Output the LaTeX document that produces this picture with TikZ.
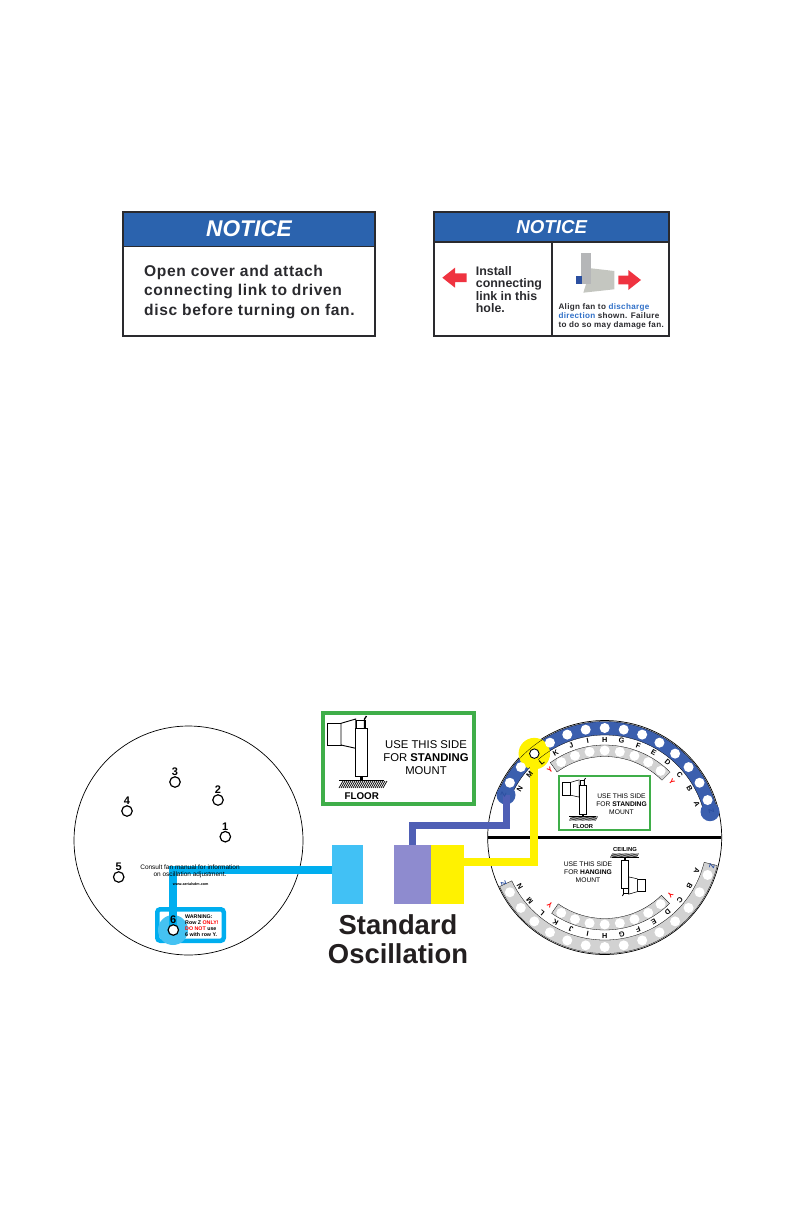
\documentclass[tikz,border=0pt]{standalone}
\usepackage{fontspec}
\usetikzlibrary{positioning}
\setmainfont{Liberation Sans}
\newfontfamily\signfont[LetterSpace=4]{Liberation Sans}
\newcommand{\px}[1]{\fontsize{#1}{#1}\selectfont}

\definecolor{noticeblue}{HTML}{2B63AE}
\definecolor{noticeline}{HTML}{2A2A2E}
\definecolor{signred}{HTML}{EF3340}
\definecolor{linkblue}{HTML}{2F6FC7}
\definecolor{fanbody}{HTML}{B5B6B8}
\definecolor{fancone}{HTML}{C4C6C0}
\definecolor{fanbase}{HTML}{2B4FA0}
\definecolor{mountgreen}{HTML}{3FAE49}
\definecolor{rowblue}{HTML}{3B5FAE}
\definecolor{rowgray}{HTML}{D2D2D2}
\definecolor{lineblue}{HTML}{4F5FB5}
\definecolor{linecyan}{HTML}{00AEEF}
\definecolor{glowcyan}{HTML}{45C2F2}
\definecolor{boxcyan}{HTML}{41C1F5}
\definecolor{boxpurple}{HTML}{8E8BCF}
\definecolor{boxyellow}{HTML}{FFF200}
\definecolor{inkgray}{HTML}{231F20}

% annular sector: start, end, inner and outer radius
\newcommand{\rowband}[4]{(#1:#4) arc (#1:#2:#4) -- (#2:#3) arc (#2:#1:#3) -- cycle}

% fan on its floor, origin at the top left corner of the frame
\newcommand{\mountfan}[1]{%
  \draw[line width=#1, fill=white] (5.7,-11.3) rectangle (19,-33);
  \draw[line width=#1, fill=white] (19,-11.3) -- (33.7,-7) -- (33.7,-36.3) -- (19,-33) -- cycle;
  \draw[line width=#1, fill=white] (34.7,-8) rectangle (43,-16.3);
  \draw[line width=#1, fill=white] (33.7,-16.3) rectangle (45.7,-64.7);
  \draw[line width=1.5*#1] (42.5,-16) -- (42.5,-7) -- (44.5,-4);
  \fill (38,-64.7) rectangle (41.3,-68.7);
  \draw[line width=1.5*#1] (17,-68.7) -- (62,-68.7);
  \foreach \h in {0,2,...,44} {
    \draw[line width=0.8*#1] (17+\h,-76) -- (18+\h+3,-69);
  }
}

\begin{document}
\begin{tikzpicture}[x=1pt,y=1pt]
  \tikzstyle{frame}=[draw=noticeline, line width=1.6pt, inner sep=0pt]
  \tikzstyle{header}=[frame, fill=noticeblue, text=white, font=\bfseries\itshape]
  \tikzstyle{rowletter}=[inner sep=0pt, font=\bfseries\px{7.3}]
  \tikzstyle{rowhole}=[circle, fill=white, inner sep=0pt, minimum size=10pt]
  \tikzstyle{holemark}=[circle, draw=black, fill=white, line width=1.2pt, inner sep=0pt, minimum size=10.5pt]
  \tikzstyle{holelabel}=[inner sep=0pt, font=\bfseries\px{11}]
  \tikzstyle{colorbox}=[inner sep=0pt, minimum height=59pt]
  \tikzstyle{mountframe}=[draw=mountgreen, fill=white, inner sep=0pt]

  \useasboundingbox (0,0) rectangle (793,-1225);

  % first notice
  \node[frame, minimum width=252pt, minimum height=124pt] (noticeA) at (249,-274) {};
  \node[header, minimum width=252pt, minimum height=34pt, font=\bfseries\itshape\px{22.7}] (noticeAhead) at (249,-229.5) {\raisebox{1.5pt}{NOTICE}};
  \node[anchor=west, align=left, inner sep=0pt, font=\signfont\bfseries\px{15.6}, text=noticeline] (noticeAtext) at (144,-291.7)
    {Open cover and attach\\[3.7pt]connecting link to driven\\[3.7pt]disc before turning on fan.};

  % second notice
  \node[frame, minimum width=235pt, minimum height=124pt, line width=2pt] (noticeB) at (551.7,-274) {};
  \node[header, minimum width=235pt, minimum height=30pt, line width=2pt, font=\bfseries\itshape\px{18.7}] (noticeBhead) at (551.7,-227) {\raisebox{1pt}{NOTICE}};
  \draw[draw=noticeline, line width=2pt] (noticeBhead.south) -- (noticeB.south);
  \fill[signred] (442.3,-277.7) -- (455,-267.7) -- (455,-273.4) -- (466.7,-273.4) -- (466.7,-282) -- (455,-282) -- (455,-287.7) -- cycle;
  \node[anchor=west, align=left, inner sep=0pt, font=\bfseries\px{12.4}, text=noticeline] (noticeBtext) at (475.7,-289.5)
    {Install\\[0pt]connecting\\[0pt]link in this\\[0pt]hole.};
  \fill[fancone] (591,-268.3) -- (614.3,-271) -- (614.3,-289.3) -- (583.3,-292.7) -- cycle;
  \fill[fanbody] (581,-253.3) rectangle (591,-284);
  \fill[fanbase] (575.7,-276) rectangle (581.7,-284);
  \fill[signred] (641,-280) -- (628.3,-270) -- (628.3,-275.7) -- (618.3,-275.7) -- (618.3,-284.3) -- (628.3,-284.3) -- (628.3,-290) -- cycle;
  \node[anchor=west, align=left, inner sep=0pt, font=\signfont\bfseries\px{8.1}, text=noticeline] (noticeBnote) at (558.3,-316.5)
    {Align fan to \textcolor{linkblue}{discharge}\\[1.1pt]\textcolor{linkblue}{direction} shown. Failure\\[1.1pt]to do so may damage fan.};

  % left disc
  \node[circle, draw=black, line width=0.7pt, minimum size=229pt, inner sep=0pt] (disc) at (188.5,-840.5) {};
  \node[draw=linecyan, fill=white, line width=4.5pt, rounded corners=3pt, minimum width=66.5pt, minimum height=31.5pt, inner sep=0pt] (warnbox) at (190.5,-925) {};
  \node[circle, fill=glowcyan, minimum size=30pt, inner sep=0pt] (glow6) at (173,-930) {};
  \coordinate (cyanport) at (332,-870);
  \draw[linecyan, line width=7.5pt] (cyanport) -| (glow6.center);
  \node[holemark] (hole1) at (225.3,-836.7) {};
  \node[holemark] (hole2) at (218,-800) {};
  \node[holemark] (hole3) at (175,-782) {};
  \node[holemark] (hole4) at (127,-811) {};
  \node[holemark] (hole5) at (118.7,-877) {};
  \node[holemark] (hole6) at (173.3,-930) {};
  \node[holelabel, above=0.5pt of hole1] {1};
  \node[holelabel, above=0.5pt of hole2] {2};
  \node[holelabel, above=0.5pt of hole3] {3};
  \node[holelabel, above=0.5pt of hole4] {4};
  \node[holelabel, above=0.5pt of hole5] {5};
  \node[holelabel, above=0.5pt of hole6] {6};
  \node[align=center, inner sep=0pt, font=\px{6.5}] (consult) at (190,-871.3) {Consult fan manual for information\\[0.8pt]on oscillation adjustment.};
  \node[inner sep=0pt, font=\bfseries\px{3.7}] (website) at (190.7,-883.7) {www.aerialsdm.com};
  \node[anchor=west, align=left, inner sep=0pt, font=\bfseries\px{5.3}] (warntext) at (185,-925.2)
    {WARNING:\\[0.7pt]Row Z \textcolor{red}{ONLY!}\\[0.7pt]\textcolor{red}{DO NOT} use\\[0.7pt]6 with row Y.};

  % large mount panel
  \node[mountframe, line width=4pt, minimum width=150.5pt, minimum height=90.5pt] (panel) at (398.3,-758.3) {};
  \begin{scope}[shift={(322,-712)}]
    \mountfan{0.9pt}
  \end{scope}
  \node[align=center, inner sep=0pt, font=\px{11.3}] (paneltext) at (426,-757.8) {USE THIS SIDE\\[1.5pt]FOR \textbf{STANDING}\\[1.5pt]MOUNT};
  \node[inner sep=0pt, font=\bfseries\px{9.8}] (panelfloor) at (361.7,-795.7) {FLOOR};

  % colour keys
  \node[colorbox, fill=boxcyan, minimum width=31pt] (cyanbox) at (347.5,-874.5) {};
  \node[colorbox, fill=boxpurple, minimum width=37pt] (purplebox) at (412.5,-874.5) {};
  \node[colorbox, fill=boxyellow, minimum width=33pt] (yellowbox) at (447.5,-874.5) {};
  \node[inner sep=0pt, text=inkgray, font=\bfseries\px{27.4}] (standard) at (398,-925) {Standard};
  \node[inner sep=0pt, text=inkgray, font=\bfseries\px{27.4}] (oscillation) at (398,-954) {Oscillation};

  % right disc
  \begin{scope}[shift={(604.7,-837.5)}]
    \node[circle, draw=black, line width=0.7pt, minimum size=234pt, inner sep=0pt] (dial) at (0,0) {};
    \fill[rowblue] \rowband{16}{156}{102.5}{116};
    \fill[rowgray] \rowband{45}{126}{81}{92.5};
    \fill[rowgray] \rowband{-155}{-14}{102.5}{116};
    \fill[rowgray] \rowband{-125}{-45.5}{81}{92.5};
    \node[circle, fill=boxyellow, minimum size=31.5pt, inner sep=0pt] (glowL) at (130:109.5) {};
    \draw[line width=0.3pt] \rowband{16}{156}{102.5}{116};
    \draw[line width=0.3pt] \rowband{45}{126}{81}{92.5};
    \draw[line width=0.3pt] \rowband{-155}{-14}{102.5}{116};
    \draw[line width=0.3pt] \rowband{-125}{-45.5}{81}{92.5};
  \end{scope}

  % bar, connectors
  \node[fill=black, minimum width=233pt, minimum height=3.6pt, inner sep=0pt] (bar) at (604.7,-837.5) {};
  \node[circle, fill=rowblue, minimum size=19pt, inner sep=0pt] (blueleft) at (506,-795) {};
  \node[circle, fill=rowblue, minimum size=19pt, inner sep=0pt] (blueright) at (710,-811.7) {};
  \coordinate (bluebend) at (506.5,-825.5);
  \draw[lineblue, line width=7.5pt] (purplebox.north) |- (bluebend) -- (bluebend |- blueleft);
  \coordinate (yellowport) at (464,-862);
  \draw[boxyellow, line width=7.7pt] (yellowport) -| (glowL.center);

  \begin{scope}[shift={(604.7,-837.5)}]
    \foreach \l [count=\i, evaluate=\i as \a using 10+10*\i] in {A,B,C,D,E,F,G,H,I,J,K,L,M,N} {
      \node[rowhole] (upper\l) at (\a:109.5) {};
      \node[rowhole] (lower\l) at (-\a:109.5) {};
      \node[rowletter, rotate=\a-90] (upperletter\l) at (\a:98) {\l};
      \node[rowletter, rotate=-\a-90] (lowerletter\l) at (-\a:98) {\l};
    }
    \foreach \a [count=\i] in {50,60,...,120} {
      \node[rowhole] (innerup\i) at (\a:87) {};
      \node[rowhole] (innerdown\i) at (-\a:87) {};
    }
    \node[rowhole, draw=black, line width=0.9pt, minimum size=9.5pt] (holeL) at (glowL) {};
    \node[rowletter, rotate=-50, text=red] (yup1) at (39.5:87) {Y};
    \node[rowletter, rotate=39, text=red] (yup2) at (129:87) {Y};
    \node[rowletter, rotate=-131, text=red] (ydown1) at (-41:87) {Y};
    \node[rowletter, rotate=141, text=red] (ydown2) at (-129:87) {Y};
    \node[rowletter, rotate=67, text=fanbase] (zup1) at (157:110) {Z};
    \node[rowletter, rotate=-76, text=fanbase] (zup2) at (14:110) {Z};
    \node[rowletter, rotate=-105, text=fanbase] (zdown1) at (-15:111) {Z};
    \node[rowletter, rotate=114, text=fanbase] (zdown2) at (-155.5:111) {Z};
  \end{scope}

  % small standing panel
  \node[mountframe, line width=1.8pt, minimum width=91pt, minimum height=54.3pt] (smallpanel) at (604.8,-802.9) {};
  \begin{scope}[shift={(559.3,-775.7)}, scale=0.59]
    \mountfan{0.55pt}
  \end{scope}
  \node[align=center, inner sep=0pt, font=\px{6.7}] (smalltext) at (621.5,-804) {USE THIS SIDE\\[1pt]FOR \textbf{STANDING}\\[1pt]MOUNT};
  \node[inner sep=0pt, font=\bfseries\px{5.8}] (smallfloor) at (583,-826) {FLOOR};

  % hanging side
  \begin{scope}[shift={(648.6,-898.3)}, scale=0.59, rotate=180]
    \mountfan{0.55pt}
  \end{scope}
  \node[inner sep=0pt, font=\bfseries\px{5.8}] (ceiling) at (625,-849.7) {CEILING};
  \node[align=center, inner sep=0pt, font=\px{6.7}] (hangtext) at (588,-872.3) {USE THIS SIDE\\[1pt]FOR \textbf{HANGING}\\[1pt]MOUNT};
\end{tikzpicture}
\end{document}
